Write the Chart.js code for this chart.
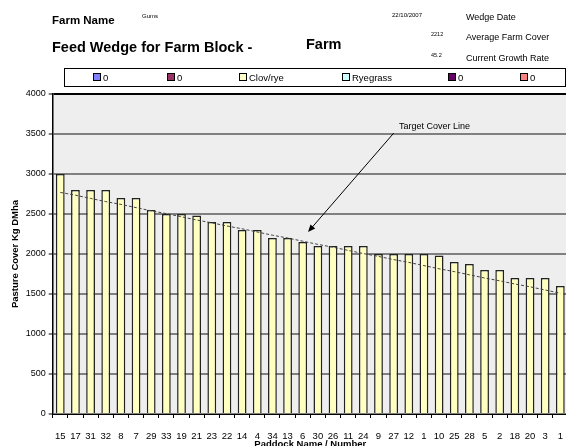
<!DOCTYPE html>
<html>
<head>
<meta charset="utf-8">
<script src="https://cdn.jsdelivr.net/npm/chart.js@4.4.0/dist/chart.umd.min.js"></script>
<style>
  body { margin: 0; width: 566px; height: 446px; overflow: hidden; background: #fff; position: relative;
         font-family: "Liberation Sans", Arial, sans-serif; }
  #wrap { position: absolute; left: 0; top: 0; width: 576px; height: 446px; }
  .t { position: absolute; white-space: nowrap; color: #000; line-height: 1; }
  .b { font-weight: bold; }
  #legend { position: absolute; left: 64px; top: 68px; width: 500px; height: 17px; border: 1px solid #000; background: #fff; }
  .item { position: absolute; top: 4px; font-size: 9.5px; line-height: 1; white-space: nowrap; }
  .sq { display: inline-block; width: 6px; height: 6px; border: 1px solid #000; margin-right: 2px; vertical-align: 0px; }
</style>
</head>
<body>
<div id="wrap"><canvas id="wedge" width="576" height="446"></canvas></div>

<div class="t b" style="left:52px; top:15px; font-size:11.5px;">Farm Name</div>
<div class="t" style="left:142px; top:13px; font-size:6px;">Gums</div>
<div class="t b" style="left:52px; top:40px; font-size:14.5px;">Feed Wedge for Farm Block -</div>
<div class="t b" style="left:306px; top:37px; font-size:14.5px;">Farm</div>
<div class="t" style="left:392px; top:12px; font-size:6px;">22/10/2007</div>
<div class="t" style="left:466px; top:13px; font-size:9px;">Wedge Date</div>
<div class="t" style="left:431px; top:32px; font-size:5.5px;">2212</div>
<div class="t" style="left:466px; top:33px; font-size:9px;">Average Farm Cover</div>
<div class="t" style="left:431px; top:53px; font-size:5.5px;">45.2</div>
<div class="t" style="left:466px; top:54px; font-size:9px;">Current Growth Rate</div>
<div class="t" style="left:399px; top:122px; font-size:9px;">Target Cover Line</div>
<div id="legend"></div>

<script>
// Datos
const paddocks = ['15','17','31','32','8','7','29','33','19','21','23','22','14','4','34','13','6',
                  '30','26','11','24','9','27','12','1','10','25','28','5','2','18','20','3','1'];
const clovRye = [3000, 2800, 2800, 2800, 2700, 2700, 2550, 2500, 2500, 2480, 2400, 2400, 2300, 2300, 2200, 2200, 2150,
                 2100, 2100, 2100, 2100, 2000, 2000, 2000, 2000, 1980, 1900, 1875, 1800, 1800, 1700, 1700, 1700, 1600];
const targetCover = [2770, 2735, 2695, 2655, 2620, 2580, 2540, 2505, 2465, 2425, 2390, 2350, 2315, 2275, 2235, 2200, 2160,
                     2120, 2085, 2045, 2005, 1970, 1930, 1895, 1855, 1815, 1780, 1740, 1700, 1665, 1625, 1590, 1550, 1510];
const legendNames = ['0', '0', 'Clov/rye', 'Ryegrass', '0', '0'];
const legendColours = ['#8080FF', '#993366', '#FFFFCC', '#CCFFFF', '#660066', '#FF8080'];
const legendLeft = [28, 102, 174, 277, 383, 455];

// Leyenda
const legend = document.getElementById("legend");
legendNames.forEach((name, i) => {
    const el = document.createElement("div");
    el.className = "item";
    el.style.left = legendLeft[i] + "px";
    el.innerHTML = '<span class="sq" style="background:' + legendColours[i] + '"></span>' + name;
    legend.appendChild(el);
});

// Flecha: desde (indice, valor) hasta (indice, valor)
const arrowFrom = [22.0, 3510];
const arrowTo = [16.35, 2275];

const fondoPlugin = {
    id: 'fondo',
    beforeDraw(chart) {
        const a = chart.chartArea;
        const ctx = chart.ctx;
        ctx.save();
        ctx.fillStyle = '#eeeeee';
        ctx.fillRect(a.left, a.top, a.right - a.left, a.bottom - a.top);
        ctx.restore();
    }
};

const flechaPlugin = {
    id: 'flecha',
    afterDraw(chart) {
        const xs = chart.scales.x, ys = chart.scales.y;
        const x0 = xs.getPixelForValue(arrowFrom[0]), y0 = ys.getPixelForValue(arrowFrom[1]);
        const x1 = xs.getPixelForValue(arrowTo[0]), y1 = ys.getPixelForValue(arrowTo[1]);
        const ang = Math.atan2(y1 - y0, x1 - x0);
        const ctx = chart.ctx;
        ctx.save();
        ctx.strokeStyle = '#000';
        ctx.fillStyle = '#000';
        ctx.lineWidth = 1;
        ctx.beginPath();
        ctx.moveTo(x0, y0);
        ctx.lineTo(x1 - 5 * Math.cos(ang), y1 - 5 * Math.sin(ang));
        ctx.stroke();
        ctx.beginPath();
        ctx.moveTo(x1, y1);
        ctx.lineTo(x1 - 8 * Math.cos(ang - 0.4), y1 - 8 * Math.sin(ang - 0.4));
        ctx.lineTo(x1 - 8 * Math.cos(ang + 0.4), y1 - 8 * Math.sin(ang + 0.4));
        ctx.closePath();
        ctx.fill();
        ctx.restore();
    }
};

const ctx = document.getElementById("wedge").getContext("2d");
new Chart(ctx, {
    type: 'bar',
    data: {
        labels: paddocks,
        datasets: [{
            type: 'line',
            label: 'Target Cover',
            data: targetCover,
            borderColor: '#444',
            borderWidth: 1,
            borderDash: [3, 2],
            pointRadius: 0,
            fill: false,
            order: 0
        }, {
            label: 'Clov/rye',
            data: clovRye,
            backgroundColor: '#FFFFC0',
            borderColor: '#222',
            borderWidth: 1.5,
            barPercentage: 0.58,
            categoryPercentage: 1,
            order: 1
        }]
    },
    options: {
        responsive: false,
        animation: false,
        layout: { padding: { top: 94, right: 2, left: 0, bottom: 0 } },
        plugins: { legend: { display: false }, tooltip: { enabled: false } },
        scales: {
            x: {
                grid: { drawOnChartArea: false, tickLength: 4, color: '#000', tickColor: '#000' },
                border: { color: '#000' },
                ticks: { font: { size: 9.5, family: 'Liberation Sans' }, color: '#000', padding: 13, maxRotation: 0, autoSkip: false },
                title: { display: true, text: 'Paddock Name / Number', color: '#000',
                         font: { size: 9.5, weight: 'bold', family: 'Liberation Sans' }, padding: { top: 0, bottom: -4 } },
                afterFit: function(s) { s.height = 32; }
            },
            y: {
                min: 0,
                max: 4000,
                ticks: { stepSize: 500, font: { size: 9, family: 'Liberation Sans' }, color: '#000', padding: 3,
                         callback: v => String(v) },
                grid: {
                    color: c => (c.tick && c.tick.value === 4000) ? '#000' : '#808080',
                    lineWidth: 2,
                    tickColor: '#000',
                    tickWidth: 1,
                    tickLength: 4
                },
                border: { color: '#000', width: 1.5 },
                title: { display: true, text: 'Pasture Cover Kg DMha', color: '#000',
                         font: { size: 9.5, weight: 'bold', family: 'Liberation Sans' }, padding: { top: 10, bottom: 0 } },
                afterFit: function(s) { s.width = 52.7; }
            }
        }
    },
    plugins: [fondoPlugin, flechaPlugin]
});
</script>
</body>
</html>
